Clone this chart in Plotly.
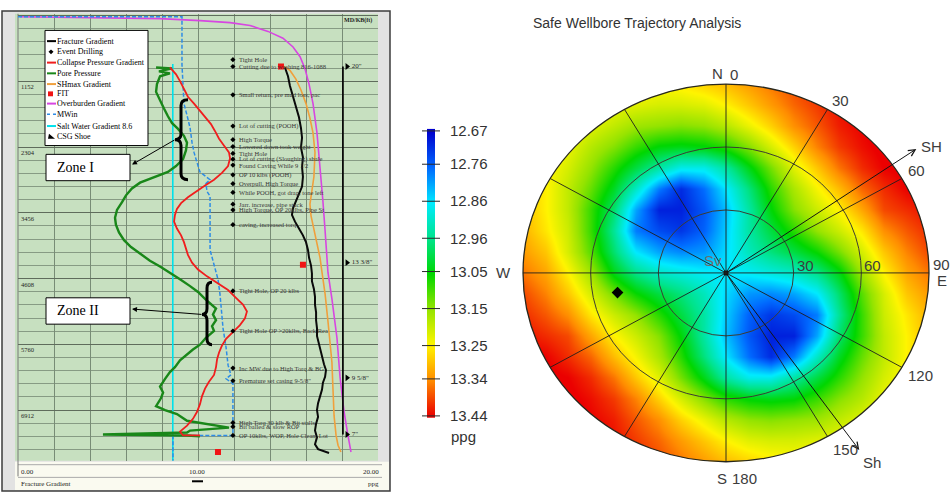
import math
import plotly.graph_objects as go

W, H = 950, 499


def fx(px):
    return px / W


def fy(py):
    return 1 - py / H


# ---------------- Well log: gradients (ppg) against measured depth (ft) ----------------
depth_major = [1152, 2304, 3456, 4608, 5760, 6912]

overburden_ppg = [0.11, 4.56, 7.89, 10.11, 11.78, 12.89, 13.89, 14.72, 15.28, 15.67, 15.94, 16.17,
                  16.39, 16.61, 16.78, 16.94, 17.06, 17.22, 17.44, 17.72, 17.89, 18.11, 18.33, 18.5]
overburden_md = [21, 38, 55, 90, 124, 175, 278, 397, 551, 722, 927, 1201,
                 1543, 2056, 2620, 3253, 3765, 4501, 4962, 5646, 6330, 6928, 7356, 7646]

fracture_ppg = [14.83, 15.0, 15.11, 15.28, 15.44, 15.61, 15.72, 15.78, 15.72, 15.83, 15.78, 15.83, 15.78,
                15.61, 15.44, 15.28, 15.22, 15.39, 15.61, 15.83, 16.0, 16.11, 16.17, 16.28, 16.33, 16.33,
                16.44, 16.5, 16.5, 16.56, 16.56, 16.61, 16.61, 16.72, 16.78, 16.89, 17.0, 17.11, 17.06,
                16.94, 16.89, 16.78, 16.67, 16.61, 16.67, 16.56, 16.5, 16.61, 16.5, 16.67, 17.06, 17.28]
fracture_md = [910, 1064, 1235, 1406, 1594, 1782, 1970, 2141, 2312, 2483, 2654, 2825, 2996,
               3133, 3253, 3372, 3492, 3611, 3731, 3851, 3970, 4107, 4244, 4381, 4518, 4654,
               4791, 4928, 5065, 5201, 5338, 5475, 5612, 5749, 5868, 5988, 6108, 6210, 6330,
               6432, 6552, 6672, 6791, 6911, 7031, 7150, 7270, 7390, 7510, 7595, 7646, 7663]

shmax_ppg = [14.78, 15.11, 15.44, 15.72, 16.0, 16.22, 16.39, 16.5, 16.44, 16.33, 16.22, 16.28, 16.44,
             16.61, 16.78, 16.89, 17.06, 17.22, 17.33, 17.44, 17.5, 17.56, 17.67, 17.78, 17.94]
shmax_md = [893, 962, 1115, 1304, 1543, 1799, 2056, 2398, 2825, 3081, 3304, 3509, 3731,
            3970, 4244, 4501, 4877, 5355, 5731, 6073, 6552, 7014, 7356, 7527, 7646]

collapse_ppg = [8.44, 8.78, 9.0, 9.22, 9.44, 9.78, 10.11, 10.44, 10.72, 10.94, 11.17, 11.44, 11.72, 11.78,
                11.67, 11.33, 10.89, 10.39, 9.89, 9.44, 9.06, 8.83, 8.72, 8.67, 8.83, 9.06, 9.22, 9.33,
                9.44, 9.67, 10.0, 10.5, 11.11, 11.67, 12.11, 12.5, 12.72, 12.61, 12.33, 11.94, 11.56,
                11.33, 11.17, 11.06, 11.0, 10.89, 10.61, 10.39, 10.22, 10.11, 9.94, 9.72, 9.39, 9.0,
                9.17, 10.11]
collapse_md = [910, 1030, 1150, 1286, 1423, 1543, 1663, 1782, 1902, 2022, 2158, 2278, 2398, 2500,
               2637, 2757, 2876, 2979, 3081, 3184, 3287, 3389, 3492, 3611, 3731, 3851, 3970, 4073,
               4193, 4329, 4449, 4569, 4689, 4809, 4945, 5065, 5184, 5304, 5424, 5543, 5663,
               5783, 5902, 6022, 6159, 6296, 6415, 6535, 6672, 6808, 6945, 7065, 7185, 7288,
               7356, 7356]

pore_ppg = [7.67, 8.56, 7.83, 8.44, 7.89, 7.72, 7.67, 7.89, 8.11, 8.33, 8.56, 8.89, 9.22, 9.39, 9.33,
            9.17, 8.78, 8.33, 7.44, 6.78, 6.33, 6.0, 5.78, 5.5, 5.39, 5.44, 5.61, 5.89, 6.28, 6.78,
            7.33, 7.89, 8.44, 9.0, 9.56, 10.0, 10.39, 10.67, 11.0, 10.83, 11.0, 10.78, 10.89, 10.44,
            10.11, 9.72, 9.39, 9.0, 8.72, 8.44, 8.17, 7.89, 8.06, 7.94, 7.67, 8.17, 8.83, 9.39,
            11.72, 9.56, 9.39, 4.72, 9.39, 10.11]
pore_md = [910, 927, 979, 1013, 1064, 1201, 1338, 1492, 1628, 1765, 1885, 1987, 2107, 2227, 2364,
           2517, 2637, 2740, 2842, 2928, 3030, 3150, 3270, 3406, 3543, 3663, 3800, 3936, 4056, 4176,
           4295, 4398, 4501, 4621, 4740, 4843, 4962, 5048, 5133, 5236, 5338, 5441, 5526, 5646,
           5766, 5851, 5937, 6039, 6159, 6245, 6364, 6501, 6604, 6706, 6843, 6911, 6980, 7099,
           7219, 7271, 7305, 7339, 7356, 7373]

mw_ppg = [0, 9.11, 9.11, 9.17, 9.22, 9.39, 9.56, 9.67, 9.78, 9.94, 10.11, 10.67, 10.44, 10.5, 10.67,
          10.67, 10.89, 11.11, 11.22, 11.28, 11.39, 11.56, 11.67, 11.83, 11.56, 11.94, 11.94, 8.61, 8.61]
mw_md = [21, 21, 860, 1372, 1543, 1748, 1970, 2227, 2398, 2569, 2740, 2876, 2945, 3081, 3167,
         4107, 4364, 4620, 4877, 5133, 5475, 5817, 6125, 6296, 6364, 6449, 7356, 7356, 7800]

salt_water_ppg = 8.6
salt_water_md = [850, 7800]

fit_ppg = [14.61, 15.83, 11.11]
fit_md = [893, 4364, 7646]

event_ppg = 11.94
event_md = [774, 893, 1389, 1936, 2175, 2295, 2415, 2517, 2620, 2791, 2945, 3099, 3304, 3406,
            3663, 4825, 5526, 6176, 6398, 7133, 7202, 7356]
event_text = ["Tight Hole", "Cutting due to washing 816-1088", "Small return, pre mud loss, pac",
              "Lot of cutting (POOH)", "High Torque", "Lowered down took weight", "Tight Hole",
              "Lot of cutting (Sloughing) shale", "Found Caving While 9 1/2", "OP 10 klbs (POOH)",
              "Overpull, High Torque", "While POOH, got drag, tone left", "Jarr. increase, pipe stuck",
              "High Torque, OP 20klbs, Pipe St", "caving, increased torq", "Tight Hole, OP 20 klbs",
              "Tight Hole OP >20klbs, Back Rea", "Inc MW due to High Torq & BG",
              "Premature set casing 9-5/8\"", "High Torq 30 klb & Bit stalls", "Bit balled & slow ROP",
              "OP 10klbs, WOP, Hole Clean, Lot"]

csg_ppg = 18.05
csg_names = ['20"', '13 3/8"', '9 5/8"', '7"']
csg_md = [893, 4329, 6347, 7338]

# ---------------- Trajectory stereonet: required mud weight (ppg) ----------------
# grid in inclination degrees; x = east component, y = north component
net_grid = [-90, -80, -70, -60, -50, -40, -30, -20, -10, 0, 10, 20, 30, 40, 50, 60, 70, 80, 90]
mw_rows_north_to_south = [
    [13.34, 13.32, 13.30, 13.28, 13.27, 13.26, 13.25, 13.26, 13.28, 13.30, 13.33, 13.36, 13.39, 13.42, 13.44, 13.46, 13.48, 13.49, 13.50],
    [13.32, 13.30, 13.27, 13.25, 13.23, 13.22, 13.21, 13.21, 13.22, 13.25, 13.29, 13.33, 13.37, 13.40, 13.43, 13.45, 13.47, 13.48, 13.49],
    [13.31, 13.28, 13.25, 13.22, 13.19, 13.16, 13.15, 13.14, 13.15, 13.18, 13.23, 13.28, 13.34, 13.38, 13.42, 13.44, 13.46, 13.48, 13.49],
    [13.30, 13.26, 13.23, 13.18, 13.14, 13.09, 13.05, 13.04, 13.05, 13.08, 13.14, 13.21, 13.28, 13.35, 13.40, 13.43, 13.45, 13.47, 13.48],
    [13.29, 13.25, 13.21, 13.15, 13.08, 13.01, 12.94, 12.88, 12.88, 12.94, 13.04, 13.13, 13.22, 13.29, 13.36, 13.41, 13.44, 13.45, 13.47],
    [13.29, 13.25, 13.19, 13.12, 13.03, 12.91, 12.78, 12.71, 12.77, 12.86, 12.97, 13.08, 13.17, 13.24, 13.30, 13.37, 13.41, 13.44, 13.45],
    [13.30, 13.25, 13.19, 13.09, 12.98, 12.81, 12.70, 12.70, 12.75, 12.83, 12.94, 13.05, 13.14, 13.20, 13.25, 13.32, 13.39, 13.41, 13.43],
    [13.31, 13.26, 13.20, 13.09, 12.95, 12.78, 12.74, 12.72, 12.76, 12.84, 12.94, 13.01, 13.08, 13.15, 13.20, 13.26, 13.34, 13.38, 13.41],
    [13.33, 13.29, 13.21, 13.11, 12.98, 12.86, 12.81, 12.79, 12.80, 12.85, 12.92, 12.97, 13.01, 13.06, 13.13, 13.21, 13.29, 13.35, 13.39],
    [13.36, 13.32, 13.25, 13.16, 13.04, 12.96, 12.91, 12.89, 12.87, 12.86, 12.87, 12.89, 12.91, 12.96, 13.04, 13.16, 13.25, 13.32, 13.36],
    [13.39, 13.35, 13.29, 13.21, 13.13, 13.06, 13.01, 12.97, 12.92, 12.85, 12.80, 12.79, 12.81, 12.86, 12.98, 13.11, 13.21, 13.29, 13.33],
    [13.41, 13.38, 13.34, 13.26, 13.20, 13.15, 13.08, 13.01, 12.94, 12.84, 12.76, 12.72, 12.74, 12.78, 12.95, 13.09, 13.20, 13.26, 13.31],
    [13.43, 13.41, 13.39, 13.32, 13.25, 13.20, 13.14, 13.05, 12.94, 12.83, 12.75, 12.70, 12.70, 12.81, 12.98, 13.09, 13.19, 13.25, 13.30],
    [13.45, 13.44, 13.41, 13.37, 13.30, 13.24, 13.17, 13.08, 12.97, 12.86, 12.77, 12.71, 12.78, 12.91, 13.03, 13.12, 13.19, 13.25, 13.29],
    [13.47, 13.45, 13.44, 13.41, 13.36, 13.29, 13.22, 13.13, 13.04, 12.94, 12.88, 12.88, 12.94, 13.01, 13.08, 13.15, 13.21, 13.25, 13.29],
    [13.48, 13.47, 13.45, 13.43, 13.40, 13.35, 13.28, 13.21, 13.14, 13.08, 13.05, 13.04, 13.05, 13.09, 13.14, 13.18, 13.23, 13.26, 13.30],
    [13.49, 13.48, 13.46, 13.44, 13.42, 13.38, 13.34, 13.28, 13.23, 13.18, 13.15, 13.14, 13.15, 13.16, 13.19, 13.22, 13.25, 13.28, 13.31],
    [13.49, 13.48, 13.47, 13.45, 13.43, 13.40, 13.37, 13.33, 13.29, 13.25, 13.22, 13.21, 13.21, 13.22, 13.23, 13.25, 13.27, 13.30, 13.32],
    [13.50, 13.49, 13.48, 13.46, 13.44, 13.42, 13.39, 13.36, 13.33, 13.30, 13.28, 13.26, 13.25, 13.26, 13.27, 13.28, 13.30, 13.32, 13.34],
]
cb_ticks = [12.67, 12.76, 12.86, 12.96, 13.05, 13.15, 13.25, 13.34, 13.44]
ring_incl = [30, 60]
spoke_az = list(range(0, 360, 30))
shmax_az, shmin_az = 55, 145
well_az, well_incl = 259, 49

jet = [[0.0, 'rgb(0,0,205)'], [0.125, 'rgb(0,105,255)'], [0.25, 'rgb(0,235,255)'],
       [0.375, 'rgb(0,228,140)'], [0.5, 'rgb(0,215,0)'], [0.625, 'rgb(150,228,0)'],
       [0.75, 'rgb(255,245,0)'], [0.875, 'rgb(255,140,0)'], [1.0, 'rgb(235,0,0)']]

SERIF = "Liberation Serif"
SANS = "Liberation Sans"

fig = go.Figure()


# ---- log curves ----
def log_line(xv, yv, color, width, dash='solid'):
    fig.add_trace(go.Scatter(x=xv, y=yv, mode='lines', xaxis='x', yaxis='y',
                             line=dict(color=color, width=width, dash=dash), hoverinfo='skip'))


log_line([salt_water_ppg, salt_water_ppg], salt_water_md, 'rgb(0,225,235)', 1.6)
log_line(overburden_ppg, overburden_md, 'rgb(215,70,225)', 1.6)
log_line(shmax_ppg, shmax_md, 'rgb(240,160,60)', 1.6)
log_line(mw_ppg, mw_md, 'rgb(45,140,230)', 1.5, '4px,2px')
log_line(pore_ppg, pore_md, 'rgb(25,135,25)', 2.4)
log_line(collapse_ppg, collapse_md, 'rgb(240,30,30)', 1.8)
log_line(fracture_ppg, fracture_md, 'rgb(10,10,10)', 2.0)
log_line([csg_ppg, csg_ppg], [csg_md[0], csg_md[-1]], 'rgb(10,10,10)', 1.8)

fig.add_trace(go.Scatter(x=[csg_ppg + 0.23] * len(csg_md), y=csg_md, mode='markers+text',
                         xaxis='x', yaxis='y', text=csg_names, textposition='middle right',
                         textfont=dict(family=SERIF, size=7, color='rgb(40,40,40)'),
                         marker=dict(symbol='triangle-right', size=6, color='black'), hoverinfo='skip'))
fig.add_trace(go.Scatter(x=fit_ppg, y=fit_md, mode='markers', xaxis='x', yaxis='y',
                         marker=dict(symbol='square', size=6, color='rgb(240,20,20)'), hoverinfo='skip'))
fig.add_trace(go.Scatter(x=[event_ppg] * len(event_md), y=event_md, mode='markers', xaxis='x', yaxis='y',
                         marker=dict(symbol='diamond', size=4, color='black'), hoverinfo='skip'))

# ---- stereonet heatmap ----
fig.add_trace(go.Heatmap(x=net_grid, y=net_grid, z=mw_rows_north_to_south[::-1], xaxis='x2', yaxis='y2',
                         zmin=cb_ticks[0], zmax=cb_ticks[-1], colorscale=jet, zsmooth='best',
                         showscale=False, hoverinfo='skip'))
fig.add_trace(go.Scatter(x=[0], y=[0], mode='markers', xaxis='x2', yaxis='y2',
                         marker=dict(size=5, color='black'), hoverinfo='skip'))
wa = math.radians(well_az)
fig.add_trace(go.Scatter(x=[well_incl * math.sin(wa)], y=[well_incl * math.cos(wa)], mode='markers',
                         xaxis='x2', yaxis='y2', marker=dict(symbol='diamond', size=9, color='black'),
                         hoverinfo='skip'))

# ---- colour bar drawn as its own little heatmap ----
fig.add_trace(go.Heatmap(x=[9, 13], y=cb_ticks, z=[[v, v] for v in cb_ticks], xaxis='x3', yaxis='y3',
                         zmin=cb_ticks[0], zmax=cb_ticks[-1], colorscale=jet, zsmooth='best',
                         showscale=False, hoverinfo='skip'))
tx, ty = [], []
for v in cb_ticks:
    tx += [2, 20, None]
    ty += [v, v, None]
fig.add_trace(go.Scatter(x=tx, y=ty, mode='lines', xaxis='x3', yaxis='y3',
                         line=dict(color='rgb(40,40,40)', width=1), hoverinfo='skip'))

# ---------------- geometry of the panels ----------------
CX, CY, RX, RY = 726.0, 273.5, 203.0, 193.5
kx, ky = RX / 90.0, RY / 90.0
x2r = [-104, 99]
y2r = [-99, 99]
cb_top, cb_bot = 128.0, 420.0
k3 = (cb_bot - cb_top) / (cb_ticks[-1] - cb_ticks[0])
y3r = [13.446, 12.664]

shapes = []
ann = []

# left panel frame, scroll strips, green chart area and footer
shapes.append(dict(type='rect', xref='paper', yref='paper', x0=fx(2), x1=fx(390), y0=fy(497), y1=fy(5),
                   fillcolor='rgb(226,226,226)', line=dict(color='rgb(60,60,60)', width=1.5), layer='below'))
shapes.append(dict(type='rect', xref='paper', yref='paper', x0=fx(15), x1=fx(378), y0=fy(466), y1=fy(8),
                   fillcolor='rgb(199,224,192)', line=dict(width=0), layer='below'))
shapes.append(dict(type='rect', xref='paper', yref='paper', x0=fx(15), x1=fx(389), y0=fy(496), y1=fy(467),
                   fillcolor='rgb(250,250,240)', line=dict(width=0), layer='below'))
for yy in (470, 483):
    shapes.append(dict(type='line', xref='paper', yref='paper', x0=fx(18), x1=fx(382), y0=fy(yy), y1=fy(yy),
                       line=dict(color='rgb(170,170,170)', width=1), layer='below'))
shapes.append(dict(type='line', xref='paper', yref='paper', x0=fx(18), x1=fx(18), y0=fy(482), y1=fy(8),
                   line=dict(color='rgb(120,120,120)', width=1), layer='below'))
shapes.append(dict(type='line', xref='paper', yref='paper', x0=fx(192), x1=fx(203), y0=fy(487), y1=fy(487),
                   line=dict(color='black', width=2), layer='above'))
for txt, xp, anc in (("0.00", 19, 'left'), ("10.00", 197, 'center'), ("20.00", 381, 'right')):
    ann.append(dict(xref='paper', yref='paper', x=fx(xp), y=fy(477), text=txt, showarrow=False,
                    xanchor=anc, yanchor='middle', font=dict(family=SERIF, size=7, color='rgb(30,30,30)')))
ann.append(dict(xref='paper', yref='paper', x=fx(19), y=fy(490), text="Fracture Gradient", showarrow=False,
                xanchor='left', yanchor='middle', font=dict(family=SERIF, size=7, color='rgb(30,30,30)')))
ann.append(dict(xref='paper', yref='paper', x=fx(381), y=fy(490), text="ppg", showarrow=False,
                xanchor='right', yanchor='middle', font=dict(family=SERIF, size=7, color='rgb(30,30,30)')))
ann.append(dict(xref='paper', yref='paper', x=fx(374), y=fy(15), text="<b>MD/KB(ft)</b>", showarrow=False,
                xanchor='right', yanchor='middle', font=dict(family=SERIF, size=6, color='rgb(30,30,30)')))

# depth labels just below the major grid lines
for d in depth_major:
    ann.append(dict(xref='x', yref='y', x=0.05, y=d, text=str(d), showarrow=False, xanchor='left',
                    yanchor='top', font=dict(family=SERIF, size=6.5, color='rgb(30,30,30)')))

# drilling event notes
for d, t in zip(event_md, event_text):
    ann.append(dict(xref='x', yref='y', x=event_ppg + 0.2, y=d, text=t, showarrow=False, xanchor='left',
                    yanchor='middle', font=dict(family=SERIF, size=6.5, color='rgb(55,55,55)')))

# legend box
shapes.append(dict(type='rect', xref='paper', yref='paper', x0=fx(45), x1=fx(148), y0=fy(143), y1=fy(25),
                   fillcolor='white', line=dict(color='black', width=1), layer='above'))
legend_items = [("Fracture Gradient", 'line', 'black'), ("Event Drilling", 'diamond', 'black'),
                ("Collapse Pressure Gradient", 'line', 'rgb(240,30,30)'),
                ("Pore Pressure", 'line', 'rgb(25,135,25)'), ("SHmax Gradient", 'line', 'rgb(240,160,60)'),
                ("FIT", 'square', 'rgb(240,20,20)'), ("Overburden Gradient", 'line', 'rgb(215,70,225)'),
                ("MWin", 'dash', 'rgb(45,140,230)'), ("Salt Water Gradient 8.6", 'line', 'rgb(0,225,235)'),
                ("CSG Shoe", 'tri', 'black')]
legend_y = [36, 47, 58, 69, 80, 90, 100, 111, 123, 134]
for (name, kind, col), yy in zip(legend_items, legend_y):
    if kind in ('line', 'dash'):
        shapes.append(dict(type='line', xref='paper', yref='paper', x0=fx(47), x1=fx(56), y0=fy(yy), y1=fy(yy),
                           line=dict(color=col, width=2 if kind == 'line' else 1.5,
                                     dash='solid' if kind == 'line' else 'dot'), layer='above'))
    elif kind == 'square':
        shapes.append(dict(type='rect', xref='paper', yref='paper', x0=fx(48), x1=fx(53), y0=fy(yy + 2.5),
                           y1=fy(yy - 2.5), fillcolor=col, line=dict(width=0), layer='above'))
    elif kind == 'diamond':
        p = f"M{fx(51)},{fy(yy - 2.5)} L{fx(53.5)},{fy(yy)} L{fx(51)},{fy(yy + 2.5)} L{fx(48.5)},{fy(yy)} Z"
        shapes.append(dict(type='path', xref='paper', yref='paper', path=p, fillcolor=col,
                           line=dict(width=0), layer='above'))
    else:
        p = f"M{fx(48)},{fy(yy + 2)} L{fx(55)},{fy(yy + 2)} L{fx(49)},{fy(yy - 3)} Z"
        shapes.append(dict(type='path', xref='paper', yref='paper', path=p, fillcolor=col,
                           line=dict(width=0), layer='above'))
    ann.append(dict(xref='paper', yref='paper', x=fx(55), y=fy(yy), text=name, showarrow=False,
                    xanchor='left', yanchor='middle', font=dict(family=SERIF, size=8, color='black')))


# zone call-outs
def brace(xo, xi, xt, ya, ym, yb):
    pts = (f"M{fx(xo)},{fy(ya)} Q{fx(xi)},{fy(ya)} {fx(xi)},{fy(ya + 6)} L{fx(xi)},{fy(ym - 6)} "
           f"Q{fx(xi)},{fy(ym)} {fx(xt)},{fy(ym)} Q{fx(xi)},{fy(ym)} {fx(xi)},{fy(ym + 6)} "
           f"L{fx(xi)},{fy(yb - 6)} Q{fx(xi)},{fy(yb)} {fx(xo)},{fy(yb)}")
    return dict(type='path', xref='paper', yref='paper', path=pts, line=dict(color='black', width=3),
                layer='above')


shapes.append(brace(188, 181, 175, 96, 137, 178))
shapes.append(brace(212, 207, 202, 283, 316, 347))
for label, y0, y1, head, tail in (("Zone I", 152, 179, (132, 162.5), (176, 137)),
                                   ("Zone II", 299, 326, (132, 310.5), (203, 316))):
    shapes.append(dict(type='rect', xref='paper', yref='paper', x0=fx(46), x1=fx(130), y0=fy(y1), y1=fy(y0),
                       fillcolor='white', line=dict(color='black', width=1), layer='above'))
    ann.append(dict(xref='paper', yref='paper', x=fx(55), y=fy((y0 + y1) / 2), text=label, showarrow=False,
                    xanchor='left', yanchor='middle', font=dict(family=SERIF, size=14, color='black')))
    ann.append(dict(xref='paper', yref='paper', x=fx(head[0]), y=fy(head[1]), text='', showarrow=True,
                    ax=tail[0] - head[0], ay=tail[1] - head[1], arrowhead=2, arrowsize=1, arrowwidth=1,
                    arrowcolor='black', standoff=0))

# ---- stereonet overlays ----
hole = ["M-115,-110 L110,-110 L110,110 L-115,110 Z"]
n = 240
circ = []
for k in range(n + 1):
    t = -2 * math.pi * k / n
    circ.append(f"{90 * math.cos(t):.3f},{90 * math.sin(t):.3f}")
hole.append("M" + " L".join(circ) + " Z")
shapes.append(dict(type='path', xref='x2', yref='y2', path=" ".join(hole), fillcolor='white',
                   line=dict(width=0), layer='above'))
for r in ring_incl:
    shapes.append(dict(type='circle', xref='x2', yref='y2', x0=-r, x1=r, y0=-r, y1=r,
                       line=dict(color='rgb(60,60,50)', width=1), layer='above'))
shapes.append(dict(type='circle', xref='x2', yref='y2', x0=-90, x1=90, y0=-90, y1=90,
                   line=dict(color='rgb(40,40,30)', width=1.3), layer='above'))
for az in spoke_az:
    a = math.radians(az)
    shapes.append(dict(type='line', xref='x2', yref='y2', x0=0, y0=0, x1=90 * math.sin(a), y1=90 * math.cos(a),
                       line=dict(color='rgb(30,30,30)', width=0.9), layer='above'))
for az in (shmax_az, shmin_az):
    a = math.radians(az)
    ann.append(dict(xref='x2', yref='y2', axref='x2', ayref='y2', x=103 * math.sin(a), y=103 * math.cos(a),
                    ax=0, ay=0, text='', showarrow=True, arrowhead=5, arrowsize=1.3, arrowwidth=1,
                    arrowcolor='rgb(20,20,20)', standoff=0))

LBL = dict(family=SANS, size=15, color='rgb(60,60,60)')


def spoke_label(az, text, xa, ya, xs=0, ys=0):
    a = math.radians(az)
    ann.append(dict(xref='x2', yref='y2', x=90 * math.sin(a), y=90 * math.cos(a), text=text, showarrow=False,
                    xanchor=xa, yanchor=ya, xshift=xs, yshift=ys, font=LBL))


spoke_label(0, "N", 'right', 'bottom', -1, 0)
spoke_label(0, "0", 'left', 'bottom', 2, -1)
spoke_label(30, "30", 'left', 'bottom', 2, -2)
spoke_label(60, "60", 'left', 'bottom', 4, -2)
spoke_label(90, "90", 'left', 'bottom', 2, -2)
spoke_label(90, "E", 'left', 'top', 6, 3)
spoke_label(120, "120", 'left', 'top', 4, 2)
spoke_label(150, "150", 'left', 'top', 3, -3)
spoke_label(180, "S", 'right', 'top', 3, -6)
spoke_label(180, "180", 'left', 'top', 4, -6)
spoke_label(270, "W", 'right', 'middle', -10, 0)
for r in ring_incl:
    ann.append(dict(xref='x2', yref='y2', x=r, y=0, text=str(r), showarrow=False, xanchor='left',
                    yanchor='bottom', xshift=1, yshift=-3, font=LBL))
for az, name, xa, ya, xs, ys in ((shmax_az, "SH", 'left', 'middle', 3, 2), (shmin_az, "Sh", 'left', 'top', 2, -2)):
    a = math.radians(az)
    ann.append(dict(xref='x2', yref='y2', x=103 * math.sin(a), y=103 * math.cos(a), text=name,
                    showarrow=False, xanchor=xa, yanchor=ya, xshift=xs, yshift=ys, font=LBL))
ann.append(dict(xref='x2', yref='y2', x=0, y=0, text="Sv", showarrow=False, xanchor='right', yanchor='bottom',
                xshift=-2, yshift=2, font=dict(family=SANS, size=15, color='rgb(110,110,110)')))

ann.append(dict(xref='paper', yref='paper', x=fx(637), y=fy(17), text="Safe Wellbore Trajectory Analysis",
                showarrow=False, xanchor='center', yanchor='middle',
                font=dict(family=SANS, size=14, color='rgb(50,50,50)')))
ann.append(dict(xref='paper', yref='paper', x=fx(463), y=fy(441), text="ppg", showarrow=False,
                xanchor='center', yanchor='middle', font=dict(family=SANS, size=15, color='rgb(50,50,50)')))

fig.update_layout(
    width=W, height=H, margin=dict(l=0, r=0, t=0, b=0, pad=0),
    paper_bgcolor='white', plot_bgcolor='rgba(0,0,0,0)', showlegend=False,
    xaxis=dict(domain=[fx(18), fx(378)], range=[0, 20], anchor='y', showgrid=True, dtick=2, tick0=0,
               gridcolor='rgb(120,140,118)', gridwidth=1, zeroline=False, showticklabels=False, ticks='',
               showline=False),
    yaxis=dict(domain=[fy(466), fy(8)], range=[7800, -30], anchor='x', showgrid=True, dtick=1152, tick0=0,
               gridcolor='rgb(95,108,92)', gridwidth=1.4, zeroline=False, showticklabels=False, ticks='',
               minor=dict(dtick=230.4, tick0=0, showgrid=True, gridcolor='rgb(135,155,132)', gridwidth=1)),
    xaxis2=dict(domain=[fx(CX + x2r[0] * kx), fx(CX + x2r[1] * kx)], range=x2r, anchor='y2', visible=False),
    yaxis2=dict(domain=[fy(CY - y2r[0] * ky), fy(CY - y2r[1] * ky)], range=y2r, anchor='x2', visible=False),
    xaxis3=dict(domain=[fx(420), fx(442)], range=[0, 22], anchor='y3', visible=False),
    yaxis3=dict(domain=[fy(cb_top + (y3r[0] - cb_ticks[0]) * k3), fy(cb_top + (y3r[1] - cb_ticks[0]) * k3)],
                range=y3r, anchor='x3', side='right', tickvals=cb_ticks,
                ticktext=[f"{v:.2f}" for v in cb_ticks], ticks='', showgrid=False, zeroline=False,
                showline=False, ticklabelstandoff=7,
                tickfont=dict(family=SANS, size=15, color='rgb(50,50,50)')),
    shapes=shapes, annotations=ann,
)

fig.write_html("out.html")
